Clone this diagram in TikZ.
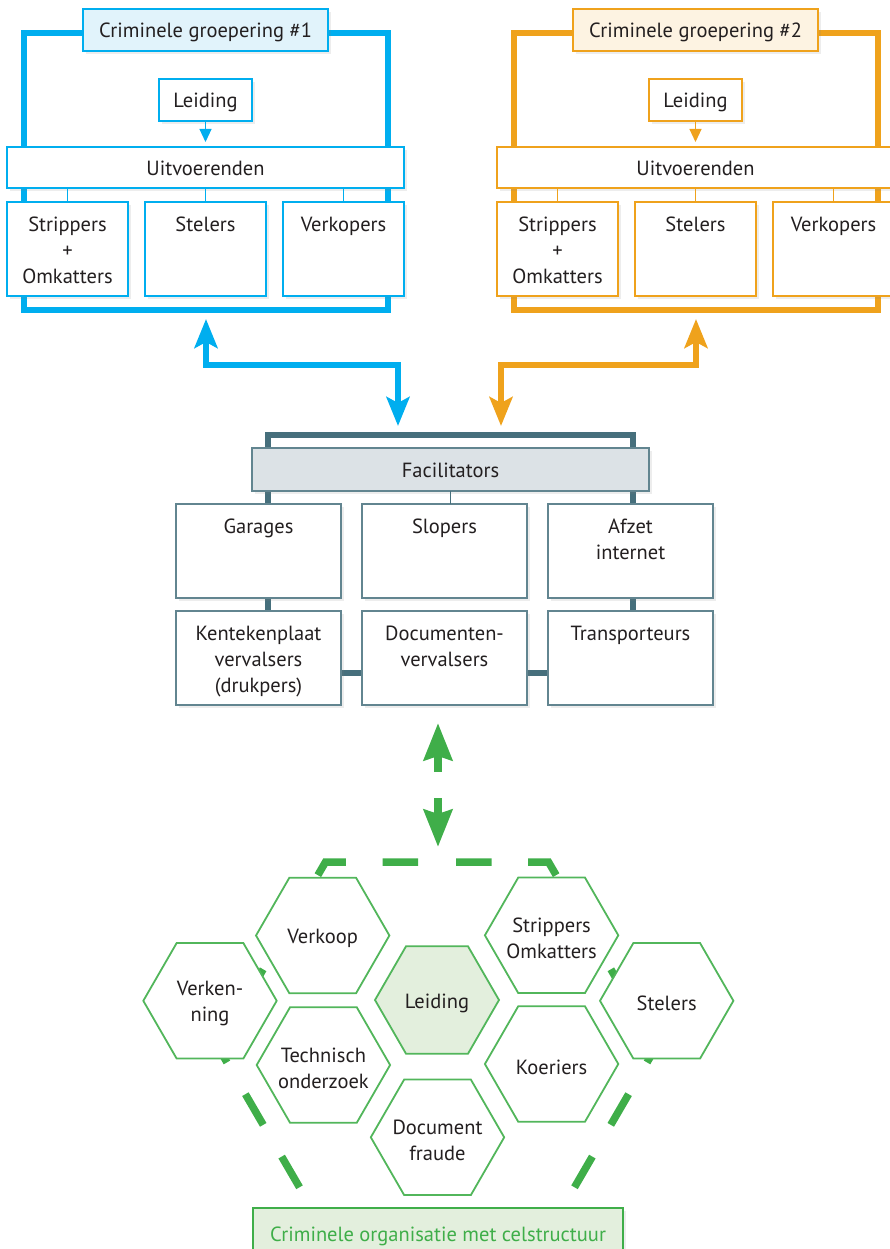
\documentclass[tikz,border=0pt]{standalone}
\usepackage{fontspec}
\setmainfont{PT Sans}
\usetikzlibrary{arrows.meta,shadows,shapes.geometric,positioning}

\definecolor{blauw}{HTML}{00AEEF}
\definecolor{blauwlicht}{HTML}{E1F3FB}
\definecolor{oranje}{HTML}{EFA21C}
\definecolor{oranjelicht}{HTML}{FDF3E2}
\definecolor{leisteen}{HTML}{466F7C}
\definecolor{leisteenlicht}{HTML}{DCE2E6}
\definecolor{groen}{HTML}{3FAE49}
\definecolor{groenlicht}{HTML}{E3EFDD}
\definecolor{tekst}{HTML}{231F20}

\tikzset{
	schaduw/.style={drop shadow={shadow xshift=2.5pt,shadow yshift=-3pt,opacity=.14}},
	hok/.style={draw,rectangle,fill=white,line width=1.1pt,outer sep=0pt,inner sep=0pt,
		text height=16.5pt,text depth=0.5pt,schaduw},
	kop/.style={below=15pt,inner sep=0pt,align=center},
	hex/.style={draw=groen!90,line width=1.8pt,fill=white,regular polygon,regular polygon sides=6,
		minimum size=133.4pt,inner sep=0pt,label={[align=center,inner sep=0pt,yshift=-3pt]center:#1}},
	pijlpunt/.style={{Stealth[length=29pt,width=23pt,inset=6pt]}-{Stealth[length=29pt,width=23pt,inset=6pt]}},
}

\begin{document}
\begin{tikzpicture}[x=1pt,y=-1pt,font=\fontsize{20.5}{26}\selectfont,every node/.style={text=tekst}]

	\useasboundingbox (0,0) rectangle (890,1249);
	\clip (0,0) rectangle (890,1249);

	% groepering 1
	\draw[blauw,line width=6pt] (23.5,33) rectangle (388,310);
	\begin{scope}[every node/.append style={hok,draw=blauw}]
		\node[fill=blauwlicht,minimum width=245pt,minimum height=42pt] (titel1) at (205.5,30) {Criminele groepering \#1};
		\node[minimum width=93pt,minimum height=42pt] (lei1) at (205.5,100) {Leiding};
		\node[minimum width=397pt,minimum height=41pt] (uitv1) at (205.5,167.5) {Uitvoerenden};
		\node[minimum width=121pt,minimum height=94pt,anchor=north west] (strip1) at (7,202) {};
		\node[minimum width=121pt,minimum height=94pt,anchor=north west] (stel1) at (145,202) {};
		\node[minimum width=121pt,minimum height=94pt,anchor=north west] (verk1) at (283,202) {};
	\end{scope}
	\node[kop] at (strip1.north) {Strippers\\+\\Omkatters};
	\node[kop] at (stel1.north) {Stelers};
	\node[kop] at (verk1.north) {Verkopers};
	\draw[blauw,line width=1.1pt,-{Triangle[length=13pt,width=12pt]}] (lei1.south) -- ([yshift=5pt]uitv1.north);
	\draw[blauw,line width=1.1pt] (strip1.north |- uitv1.south) -- (strip1.north);
	\draw[blauw,line width=1.1pt] (stel1.north |- uitv1.south) -- (stel1.north);
	\draw[blauw,line width=1.1pt] (verk1.north |- uitv1.south) -- (verk1.north);

	% groepering 2
	\draw[oranje,line width=6pt] (513.5,33) rectangle (878,310);
	\begin{scope}[every node/.append style={hok,draw=oranje}]
		\node[fill=oranjelicht,minimum width=245pt,minimum height=42pt] (titel2) at (695.5,30) {Criminele groepering \#2};
		\node[minimum width=93pt,minimum height=42pt] (lei2) at (695.5,100) {Leiding};
		\node[minimum width=397pt,minimum height=41pt] (uitv2) at (695.5,167.5) {Uitvoerenden};
		\node[minimum width=121pt,minimum height=94pt,anchor=north west] (strip2) at (497,202) {};
		\node[minimum width=121pt,minimum height=94pt,anchor=north west] (stel2) at (635,202) {};
		\node[minimum width=121pt,minimum height=94pt,anchor=north west] (verk2) at (773,202) {};
	\end{scope}
	\node[kop] at (strip2.north) {Strippers\\+\\Omkatters};
	\node[kop] at (stel2.north) {Stelers};
	\node[kop] at (verk2.north) {Verkopers};
	\draw[oranje,line width=1.1pt,-{Triangle[length=13pt,width=12pt]}] (lei2.south) -- ([yshift=5pt]uitv2.north);
	\draw[oranje,line width=1.1pt] (strip2.north |- uitv2.south) -- (strip2.north);
	\draw[oranje,line width=1.1pt] (stel2.north |- uitv2.south) -- (stel2.north);
	\draw[oranje,line width=1.1pt] (verk2.north |- uitv2.south) -- (verk2.north);

	% pijlen naar facilitators
	\coordinate (pijl1a) at (206,319);
	\coordinate (pijl1b) at (398,426);
	\coordinate (pijl2a) at (696,319);
	\coordinate (pijl2b) at (501,426);
	\draw[blauw,line width=6pt,pijlpunt] (pijl1a) -- ++(0,46) -| (pijl1b);
	\draw[oranje,line width=6pt,pijlpunt] (pijl2a) -- ++(0,46) -| (pijl2b);

	% facilitators
	\draw[leisteen,line width=6pt] (268,673) -- (268,434.5) -- (633,434.5) -- (633,673) -- cycle;
	\begin{scope}[every node/.append style={hok,draw=leisteen!85,minimum width=165pt,minimum height=94pt,anchor=north west}]
		\node[fill=leisteenlicht,minimum width=397pt,minimum height=43pt,anchor=center] (fac) at (450.5,469.5) {Facilitators};
		\node (gar) at (176,504) {};
		\node (slop) at (362,504) {};
		\node (afzet) at (548,504) {};
		\node (kent) at (176,611) {};
		\node (docv) at (362,611) {};
		\node (trans) at (548,611) {};
	\end{scope}
	\node[kop] at (gar.north) {Garages};
	\node[kop] at (slop.north) {Slopers};
	\node[kop] at (afzet.north) {Afzet\\internet};
	\node[kop] at (kent.north) {Kentekenplaat\\vervalsers\\(drukpers)};
	\node[kop] at (docv.north) {Documenten-\\vervalsers};
	\node[kop] at (trans.north) {Transporteurs};
	\draw[leisteen,line width=1.1pt] (fac.south) -- (fac.south |- slop.north);

	% groene pijlen
	\coordinate (gr1) at (438,772);
	\coordinate (gr2) at (438,723);
	\coordinate (gr3) at (438,798);
	\coordinate (gr4) at (438,847);
	\draw[groen,line width=8.7pt,-{Stealth[length=37pt,width=28pt,inset=4pt]}] (gr1) -- (gr2);
	\draw[groen,line width=8.7pt,-{Stealth[length=37pt,width=28pt,inset=4pt]}] (gr3) -- (gr4);

	% celstructuur
	\begin{scope}[groen,line width=7.5pt,dash pattern=on 35.5pt off 36.7pt,dash phase=53.2pt]
		\draw (437,862) -- (548.5,862) -- (656,1047) -- (548.5,1232) -- (437,1232);
		\draw (437,862) -- (325.5,862) -- (218,1047) -- (325.5,1232) -- (437,1232);
	\end{scope}
	\node[hex={Verken-\\ning}] (verkenning) at (210,1000.8) {};
	\node[hex=Verkoop] (verkoop) at (322.7,935.5) {};
	\node[hex={Technisch\\onderzoek}] (techn) at (323.4,1065) {};
	\node[hex=Leiding,minimum size=124pt,fill=groenlicht] (leiding) at (437,1000) {};
	\node[hex={Document\\fraude}] (docfr) at (437.5,1137.3) {};
	\node[hex={Strippers\\Omkatters}] (strippers) at (551.6,935.3) {};
	\node[hex=Koeriers] (koeriers) at (551.6,1064) {};
	\node[hex=Stelers] (stelers) at (666.7,1000.8) {};

	\node[hok,draw=groen,fill=groenlicht,text=groen,minimum width=370pt,minimum height=50pt,anchor=north west] (celorg) at (253,1208) {Criminele organisatie met celstructuur};

\end{tikzpicture}
\end{document}
